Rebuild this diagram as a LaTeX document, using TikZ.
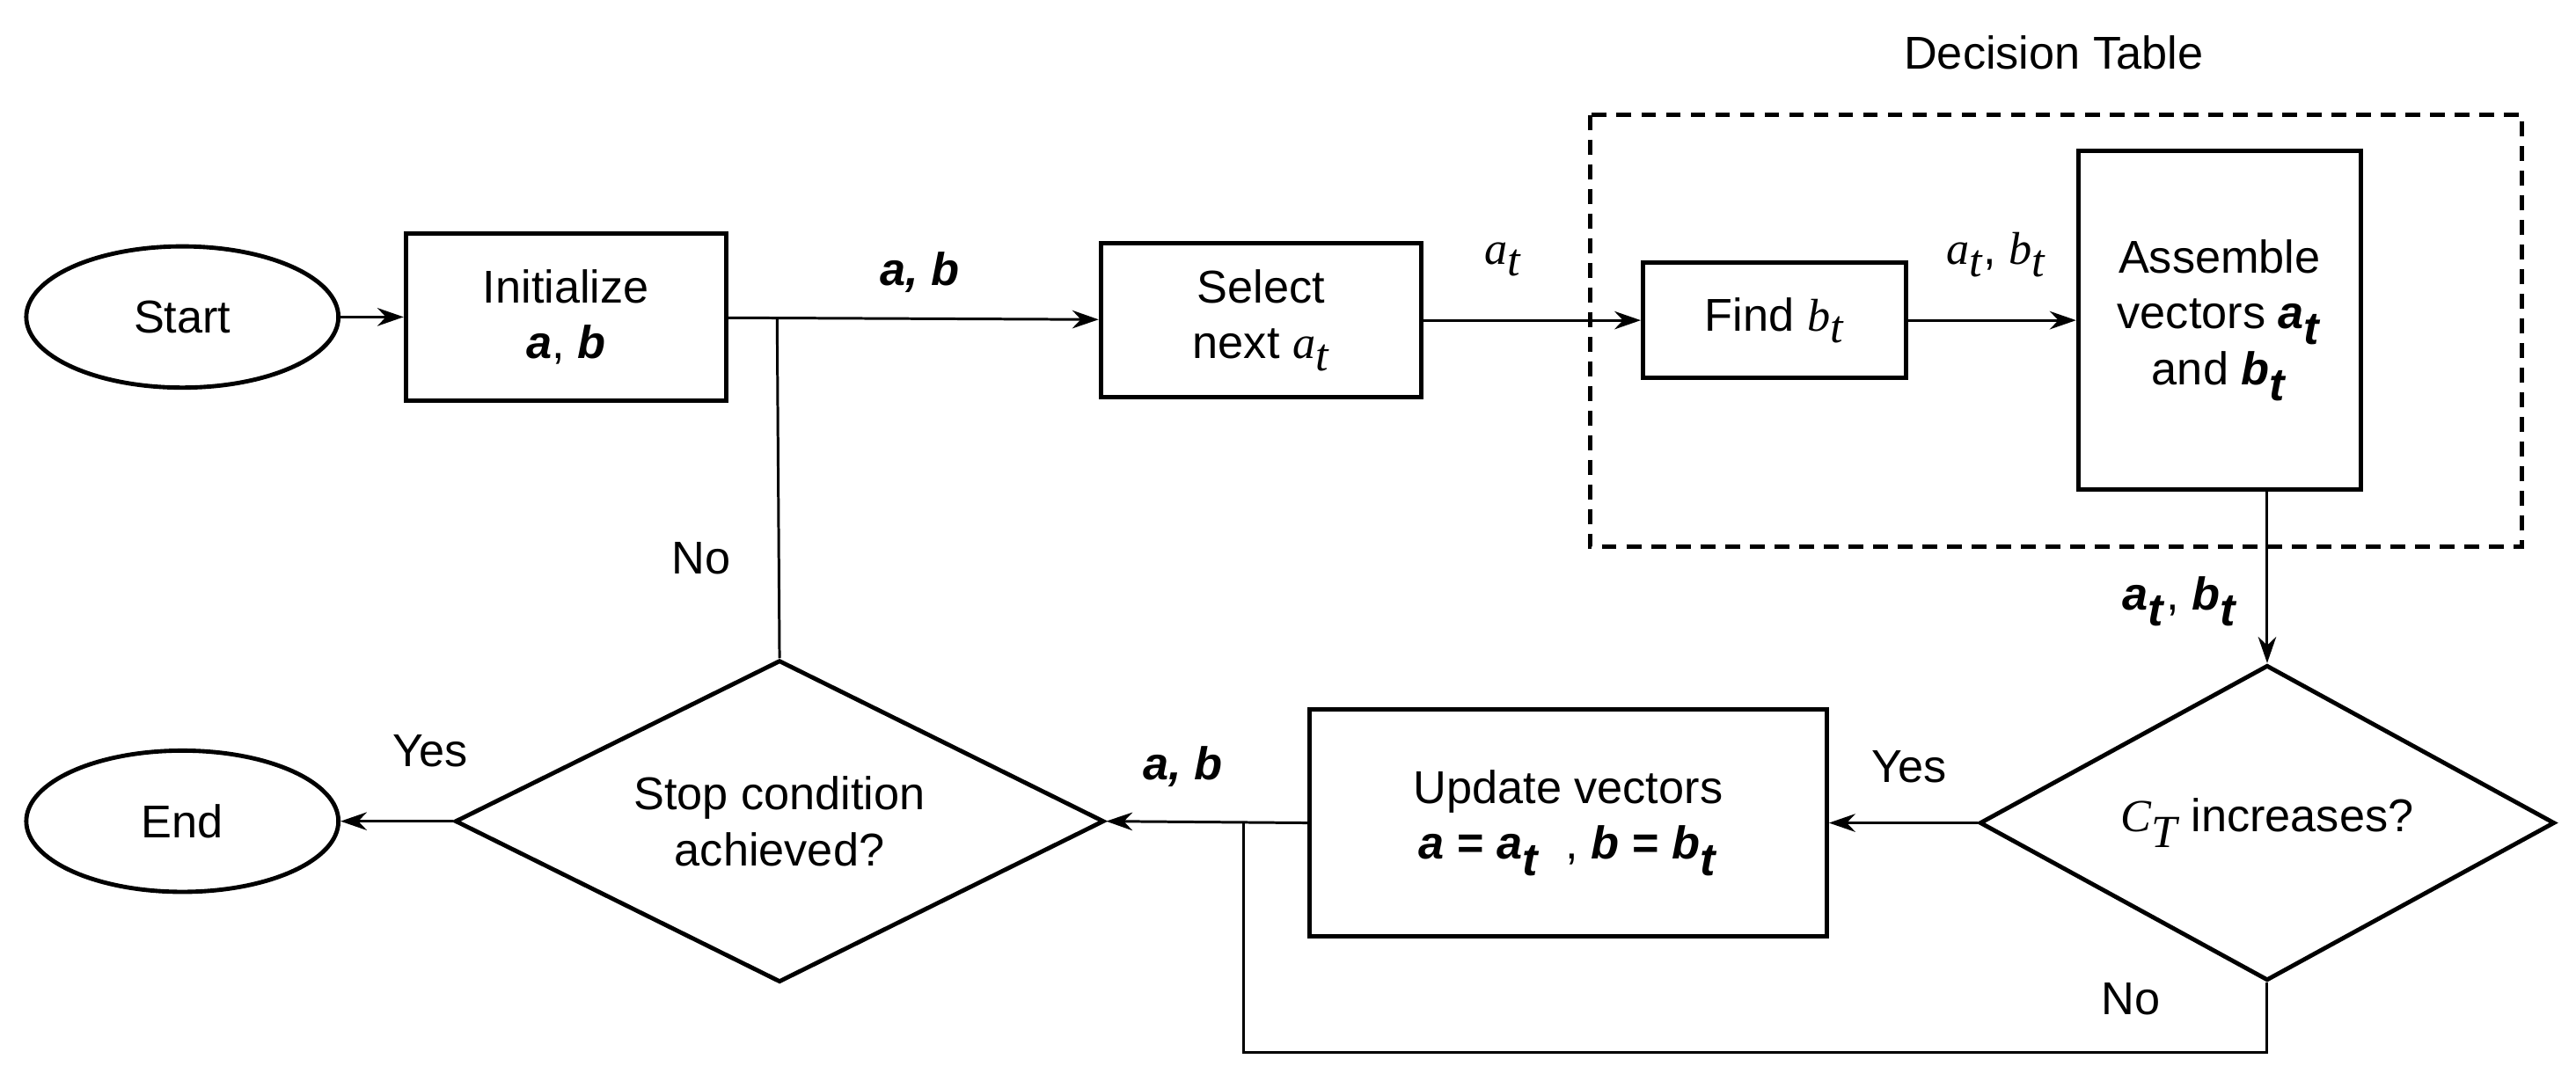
\documentclass[tikz,border=0pt]{standalone}
\usepackage{fontspec}
\setmainfont{Liberation Sans}
\usetikzlibrary{shapes.geometric,arrows.meta}
\begin{document}
\begin{tikzpicture}[x=1pt,y=-1pt,
  every node/.style={font=\fontsize{28}{34}\selectfont},
  box/.style={draw,line width=2.6pt,align=center,inner sep=0pt},
  ln/.style={line width=1.6pt},
  arr/.style={ln,-{Stealth[length=16pt,width=11pt]}},
  lab/.style={font=\fontsize{28}{34}\selectfont}]
\useasboundingbox (0,0) rectangle (1568,658);
\newcommand{\bi}[1]{\textbf{\textit{#1}}}
\newcommand{\mt}[1]{\textit{\fontspec{Liberation Serif}#1}}
\node[box,ellipse,minimum width=190pt,minimum height=86pt] (start) at (111,193) {Start};
\node[box,minimum width=195pt,minimum height=102pt] (init) at (344.5,193) {Initialize\\\bi{a}, \bi{b}};
\node[box,minimum width=195pt,minimum height=94pt] (sel) at (767.5,195) {Select\\next \mt{a}$_{\mt{t}}$};
\node[box,minimum width=160pt,minimum height=70pt] (find) at (1080,195) {Find \mt{b}$_{\mt{t}}$};
\node[box,minimum width=172pt,minimum height=206pt] (asm) at (1351,195) {Assemble\\vectors \bi{a}$_{\bi{t}}$\\and \bi{b}$_{\bi{t}}$};
\draw[line width=2.6pt,dash pattern=on 9pt off 6pt] (968,70) rectangle (1535,333);
\node (dt) at (1250,32) {Decision Table};
\node[box,diamond,aspect=1.82,minimum width=350pt,minimum height=192pt] (ct) at (1380,501) {\mt{C}$_{\mt{T}}$ increases?};
\node[box,minimum width=315pt,minimum height=138pt] (upd) at (954.5,501) {Update vectors\\\bi{a} \textbf{=} \bi{a}$_{\bi{t}}$~~, \bi{b} \textbf{=} \bi{b}$_{\bi{t}}$};
\node[box,diamond,aspect=2.02,minimum width=395pt,minimum height=196pt,align=center] (stop) at (474.5,500) {Stop condition\\achieved?};
\node[box,ellipse,minimum width=190pt,minimum height=86pt] (end) at (111,500) {End};
\coordinate (j1) at (473,193);
\coordinate (j2) at (757,501);
\coordinate (c1) at (1380,641);
\coordinate (c2) at (757,641);
\draw[arr] (start) -- (init);
\draw[arr] (init) -- (sel);
\draw[ln] (j1) -- (stop.north);
\draw[arr] (sel.east) -- (find.west |- sel.east);
\draw[arr] (find.east) -- (asm.west |- find.east);
\draw[arr] (asm.south -| ct.north) -- (ct.north);
\draw[arr] (ct.west) -- (upd.east);
\draw[arr] (upd.west) -- (stop.east);
\draw[arr] (stop.west) -- (end.east);
\draw[ln] (ct.south) -- (c1) -- (c2) -- (j2);
\node at (560,166) {\bi{a, b}};
\node at (915,158) {\mt{a}$_{\mt{t}}$};
\node at (1215,155) {\mt{a}$_{\mt{t}}$, \mt{b}$_{\mt{t}}$};
\node at (1327,366) {\bi{a}$_{\bi{t}}$, \bi{b}$_{\bi{t}}$};
\node at (1162,467) {Yes};
\node at (720,467) {\bi{a, b}};
\node at (427,340) {No};
\node at (262,457) {Yes};
\node at (1297,608) {No};
\end{tikzpicture}
\end{document}
